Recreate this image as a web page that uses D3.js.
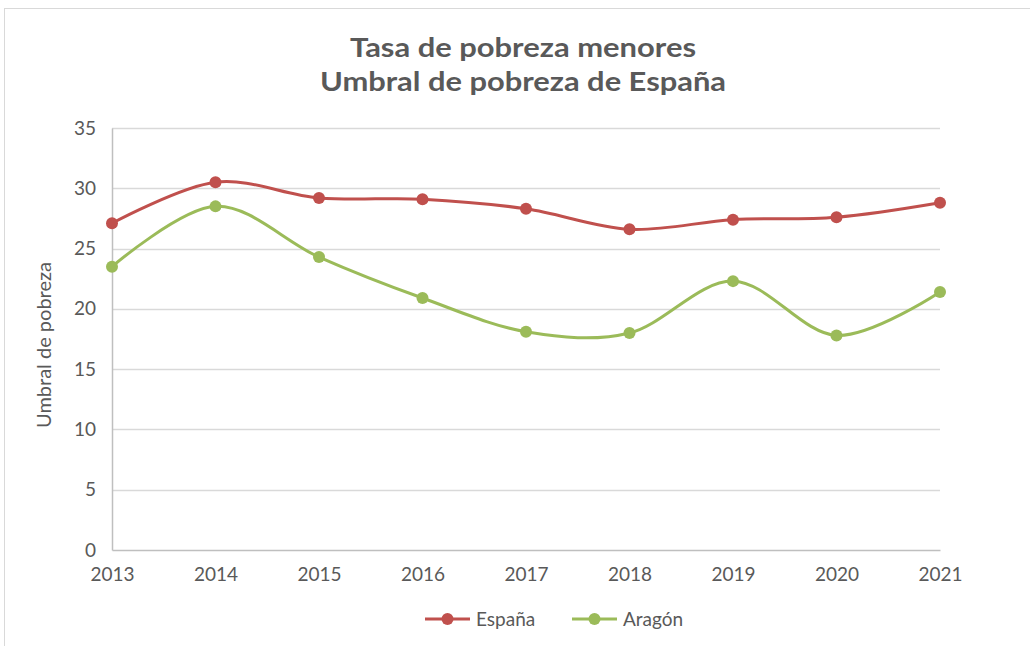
<!DOCTYPE html>
<html>
<head>
<meta charset="utf-8">
<script src="https://cdn.jsdelivr.net/npm/d3@7.9.0/dist/d3.min.js"></script>
<style>
  body { margin: 0; background: #fff; }
  svg { display: block; font-family: Lato, "Open Sans", sans-serif; }
</style>
</head>
<body>
<svg id="chart" width="1030" height="646"></svg>
<script>
const years = ['2013', '2014', '2015', '2016', '2017', '2018', '2019', '2020', '2021'];
const espana = [27.1, 30.5, 29.2, 29.1, 28.3, 26.6, 27.4, 27.6, 28.8];
const aragon = [23.5, 28.5, 24.3, 20.9, 18.1, 18.0, 22.3, 17.8, 21.4];
const yTicks = [0, 5, 10, 15, 20, 25, 30, 35];
const titleLines = ['Tasa de pobreza menores', 'Umbral de pobreza de España'];
const yLabel = 'Umbral de pobreza';

const series = [
    { name: 'España', values: espana, color: '#C0504D' },
    { name: 'Aragón', values: aragon, color: '#9BBB59' },
];

const svg = d3.select('#chart');
const textColor = '#595959';

// chart frame
svg.append('rect')
    .attr('x', 4.5).attr('y', 8.5)
    .attr('width', 1040).attr('height', 660)
    .attr('fill', 'none')
    .attr('stroke', '#d9d9d9');

const area = { left: 112, right: 940, top: 128, bottom: 550 };

const x = d3.scalePoint().domain(years).range([area.left, area.right]);
const y = d3.scaleLinear().domain([0, 35]).range([area.bottom, area.top]);

// title (source font is narrow and tall, so stretch to its width)
const titleWidths = [346, 406];
svg.append('g')
    .selectAll('text')
    .data(titleLines)
    .join('text')
    .attr('x', 523)
    .attr('y', (d, i) => 57 + i * 34)
    .attr('text-anchor', 'middle')
    .attr('font-size', 27)
    .attr('font-weight', 'bold')
    .attr('fill', textColor)
    .attr('textLength', (d, i) => titleWidths[i])
    .attr('lengthAdjust', 'spacingAndGlyphs')
    .text((d) => d);

// grid
svg.append('g')
    .selectAll('line')
    .data(yTicks.filter((d) => d > 0))
    .join('line')
    .attr('x1', area.left).attr('x2', area.right)
    .attr('y1', (d) => Math.round(y(d)) + 0.5)
    .attr('y2', (d) => Math.round(y(d)) + 0.5)
    .attr('stroke', '#d9d9d9')
    .attr('stroke-width', 1.5);

// axes
const yAxis = d3.axisLeft(y).tickValues(yTicks).tickSize(0).tickPadding(16);
const gy = svg.append('g').attr('transform', `translate(${area.left}, 0)`).call(yAxis);
gy.select('.domain').attr('stroke', '#bfbfbf').attr('stroke-width', 1.5);
gy.selectAll('text').attr('font-size', 19).attr('fill', textColor).attr('font-family', 'Lato, sans-serif');

const xAxis = d3.axisBottom(x).tickSize(0).tickPadding(18);
const gx = svg.append('g').attr('transform', `translate(0, ${area.bottom})`).call(xAxis);
gx.select('.domain').attr('stroke', '#bfbfbf').attr('stroke-width', 1.5);
gx.selectAll('text').attr('font-size', 19).attr('fill', textColor).attr('font-family', 'Lato, sans-serif');

// y label
svg.append('text')
    .attr('transform', `translate(51, ${(area.top + area.bottom) / 2 + 6}) rotate(-90)`)
    .attr('text-anchor', 'middle')
    .attr('font-size', 19)
    .attr('fill', textColor)
    .attr('textLength', 166)
    .attr('lengthAdjust', 'spacingAndGlyphs')
    .text(yLabel);

// lines
const line = d3.line()
    .x((d, i) => x(years[i]))
    .y((d) => y(d))
    .curve(d3.curveCatmullRom.alpha(0));

series.forEach((s) => {
    svg.append('path')
        .datum(s.values)
        .attr('d', line)
        .attr('fill', 'none')
        .attr('stroke', s.color)
        .attr('stroke-width', 3);

    svg.append('g')
        .selectAll('circle')
        .data(s.values)
        .join('circle')
        .attr('cx', (d, i) => x(years[i]))
        .attr('cy', (d) => y(d))
        .attr('r', 6)
        .attr('fill', s.color);
});

// legend
const legend = svg.append('g')
    .selectAll('g')
    .data(series)
    .join('g')
    .attr('transform', (d, i) => `translate(${425 + i * 147}, 619)`);

legend.append('line')
    .attr('x1', 0).attr('x2', 45)
    .attr('stroke', (d) => d.color)
    .attr('stroke-width', 3);
legend.append('circle')
    .attr('cx', 22.5).attr('r', 6)
    .attr('fill', (d) => d.color);
legend.append('text')
    .attr('x', 51).attr('y', 7)
    .attr('font-size', 19)
    .attr('fill', textColor)
    .text((d) => d.name);
</script>
</body>
</html>
